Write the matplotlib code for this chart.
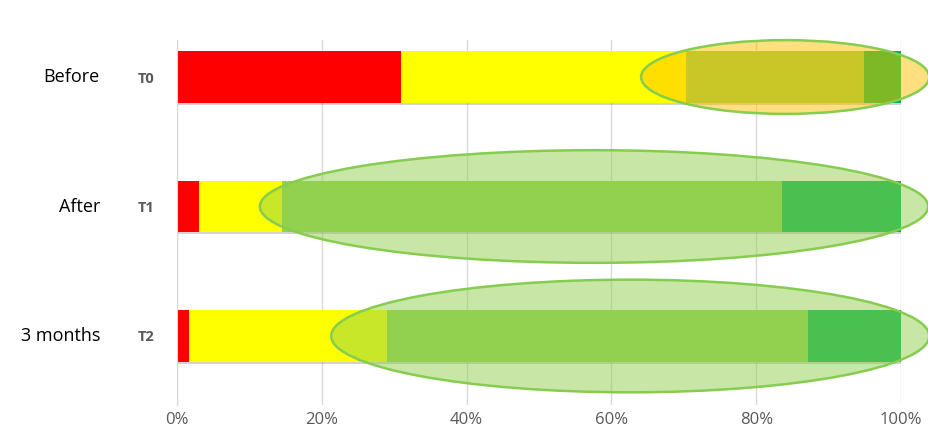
import matplotlib.pyplot as plt
from matplotlib.patches import Ellipse
import matplotlib.patheffects as pe

# survey shares per time point (percent)
stages = ["T0", "T1", "T2"]
periods = ["Before", "After", "3 months"]
red = [31.0, 3.0, 1.7]
yellow = [39.3, 11.5, 27.3]
light_green = [24.6, 69.1, 58.2]
dark_green = [5.1, 16.4, 12.8]

# highlight ellipses: centre (%), width (%), height (rows)
ell_center = [84.0, 57.6, 62.6]
ell_width = [39.8, 92.3, 82.6]
ell_height = [0.57, 0.87, 0.87]
ell_fill = ["#FFC000", "#92D050", "#92D050"]

series = [red, yellow, light_green, dark_green]
colors = ["#FF0000", "#FFFF00", "#92D050", "#00B050"]

plt.rcParams['font.family'] = ['Open Sans', 'DejaVu Sans']

fig = plt.figure(figsize=(9.29, 4.40), dpi=100)
ax = fig.add_axes([177 / 929, 35 / 440, 724 / 929, 365 / 440])

ypos = list(range(len(stages)))
left = [0.0] * len(stages)
shadow = [pe.SimplePatchShadow(offset=(1, -1.5), shadow_rgbFace="#808080", alpha=0.35), pe.Normal()]
for vals, c in zip(series, colors):
    bars = ax.barh(ypos, vals, left=left, height=0.4, color=c, zorder=2)
    for b in bars:
        b.set_path_effects(shadow)
    left = [l + v for l, v in zip(left, vals)]

for i in range(len(stages)):
    e = Ellipse((ell_center[i], i), ell_width[i], ell_height[i],
                facecolor=ell_fill[i], alpha=0.5, edgecolor="none",
                zorder=3, clip_on=False)
    ax.add_patch(e)
    e2 = Ellipse((ell_center[i], i), ell_width[i], ell_height[i],
                 facecolor="none", edgecolor="#86CC4E", linewidth=1.8,
                 zorder=4, clip_on=False)
    ax.add_patch(e2)

ax.set_xlim(0, 100)
ax.set_ylim(2.533, -0.286)
ax.set_xticks(range(0, 101, 20))
ax.set_xticklabels([f"{t}%" for t in range(0, 101, 20)], color="#595959", fontsize=12)
ax.grid(axis="x", color="#D9D9D9", linewidth=1, zorder=0)
ax.set_axisbelow(True)
ax.tick_params(axis="x", length=0, pad=5)
ax.tick_params(axis="y", length=0, pad=16)
ax.set_yticks(ypos)
ax.set_yticklabels(stages, color="#595959", fontsize=10.5, fontweight="bold")

for i, p in enumerate(periods):
    ax.text(-77 / 7.24, i, p, ha="right", va="center", fontsize=13, color="black")

for s in ["top", "right", "bottom"]:
    ax.spines[s].set_visible(False)
ax.spines["left"].set_color("#D9D9D9")

fig.savefig("out.png", dpi=100)
